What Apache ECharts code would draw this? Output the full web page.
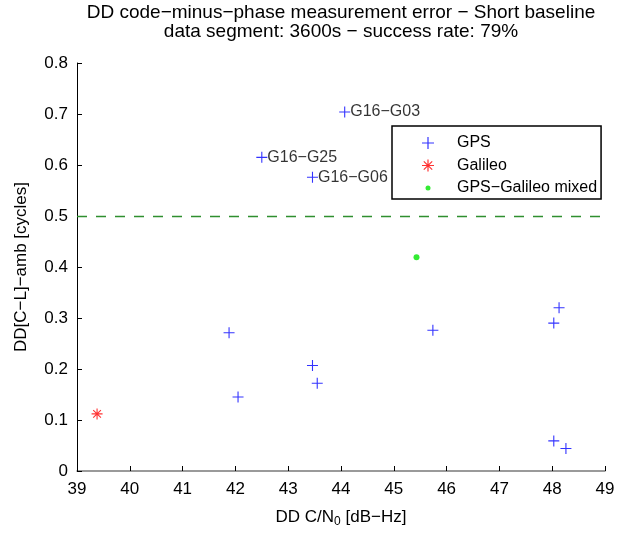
<!DOCTYPE html>
<html>
<head>
<meta charset="utf-8">
<script src="https://cdn.jsdelivr.net/npm/echarts@6/dist/echarts.min.js"></script>
<style>
  html, body { margin: 0; padding: 0; background: #fff; }
  #chart { width: 628px; height: 533px; }
</style>
</head>
<body>
<div id="chart"></div>
<script>
// data
const gpsX = [44.07, 42.50, 43.46, 41.88, 43.46, 43.55, 42.05, 45.74, 48.13, 48.03, 48.03, 48.26];
const gpsY = [0.704, 0.615, 0.576, 0.271, 0.207, 0.172, 0.145, 0.276, 0.320, 0.290, 0.059, 0.044];
const gpsNames = ['G16−G03', 'G16−G25', 'G16−G06', '', '', '', '', '', '', '', '', ''];
const galileoX = [39.38];
const galileoY = [0.112];
const mixedX = [45.43];
const mixedY = [0.419];
const threshold = 0.5;

const FONT = 'Liberation Sans, Arial, Helvetica, sans-serif';
const plusPath = 'path://M0,4.5H10V5.5H0Z M4.5,0H5.5V10H4.5Z';
const starPath = 'path://M0,4.5H10V5.5H0Z M4.5,0H5.5V10H4.5Z ' +
  'M1.15,1.85L1.85,1.15L8.85,8.15L8.15,8.85Z M8.15,1.15L8.85,1.85L1.85,8.85L1.15,8.15Z';
// small dot inside a 12x12 box so the legend icon stays small
const dotPath = 'path://M0,0M12,12M3.5,6a2.5,2.5 0 1,0 5,0a2.5,2.5 0 1,0 -5,0Z';

const chart = echarts.init(document.getElementById('chart'));

const gpsData = gpsX.map((x, i) => {
  const item = { value: [x, gpsY[i]], name: gpsNames[i] };
  if (gpsNames[i]) {
    item.label = { show: true };
  }
  return item;
});

const option = {
  animation: false,
  textStyle: { fontFamily: FONT },
  title: {
    text: 'DD code−minus−phase measurement error − Short baseline\ndata segment: 3600s − success rate: 79%',
    left: 341,
    top: 3,
    padding: 0,
    textAlign: 'center',
    textStyle: { fontFamily: FONT, fontSize: 19, fontWeight: 'normal', color: '#000', lineHeight: 19 }
  },
  legend: {
    orient: 'vertical',
    left: 392,
    top: 126,
    padding: [9, 4, 3, 30],
    itemWidth: 48,
    itemHeight: 12,
    itemGap: 6.5,
    borderColor: '#000',
    borderWidth: 1.5,
    backgroundColor: '#fff',
    textStyle: { fontFamily: FONT, fontSize: 16, color: '#000', lineHeight: 16 },
    data: [
      { name: 'GPS', icon: plusPath },
      { name: 'Galileo', icon: starPath },
      { name: 'GPS−Galileo mixed', icon: dotPath }
    ]
  },
  grid: { left: 77, right: 23, top: 63, bottom: 60, containLabel: false },
  xAxis: {
    type: 'value',
    min: 39,
    max: 49,
    interval: 1,
    name: 'DD C/N{sub|0} [dB−Hz]',
    nameLocation: 'middle',
    nameGap: 36,
    nameTextStyle: {
      fontFamily: FONT, fontSize: 17, color: '#000',
      rich: { sub: { fontFamily: FONT, fontSize: 12, color: '#000', padding: [9, 0, 0, 0] } }
    },
    axisLine: { lineStyle: { color: '#7a7a7a', width: 1.5 } },
    axisTick: { inside: true, length: 5, lineStyle: { color: '#000' } },
    axisLabel: { fontFamily: FONT, fontSize: 17, color: '#000', margin: 10 },
    splitLine: { show: false }
  },
  yAxis: {
    type: 'value',
    min: 0,
    max: 0.8,
    interval: 0.1,
    name: 'DD[C−L]−amb [cycles]',
    nameLocation: 'middle',
    nameGap: 47,
    nameTextStyle: { fontFamily: FONT, fontSize: 17, color: '#000' },
    axisLine: { lineStyle: { color: '#000', width: 1 } },
    axisTick: { inside: true, length: 5, lineStyle: { color: '#000' } },
    axisLabel: { fontFamily: FONT, fontSize: 17, color: '#000', margin: 9 },
    splitLine: { show: false }
  },
  series: [
    {
      name: 'GPS',
      type: 'scatter',
      symbol: plusPath,
      symbolSize: 11,
      itemStyle: { color: '#0000ff' },
      label: {
        show: false,
        position: 'right',
        distance: 0,
        formatter: '{b}',
        fontFamily: FONT,
        fontSize: 16,
        color: '#000'
      },
      data: gpsData,
      z: 4,
      markLine: {
        silent: true,
        symbol: 'none',
        label: { show: false },
        lineStyle: { color: '#2f8f2f', type: [10, 9], width: 1.3 },
        data: [{ yAxis: threshold }]
      }
    },
    {
      name: 'Galileo',
      type: 'scatter',
      symbol: starPath,
      symbolSize: 11,
      itemStyle: { color: '#ff0000' },
      data: galileoX.map((x, i) => [x, galileoY[i]]),
      z: 3
    },
    {
      name: 'GPS−Galileo mixed',
      type: 'scatter',
      symbol: 'circle',
      symbolSize: 6,
      itemStyle: { color: '#00e600' },
      data: mixedX.map((x, i) => [x, mixedY[i]]),
      z: 3
    }
  ]
};

chart.setOption(option);
</script>
</body>
</html>
